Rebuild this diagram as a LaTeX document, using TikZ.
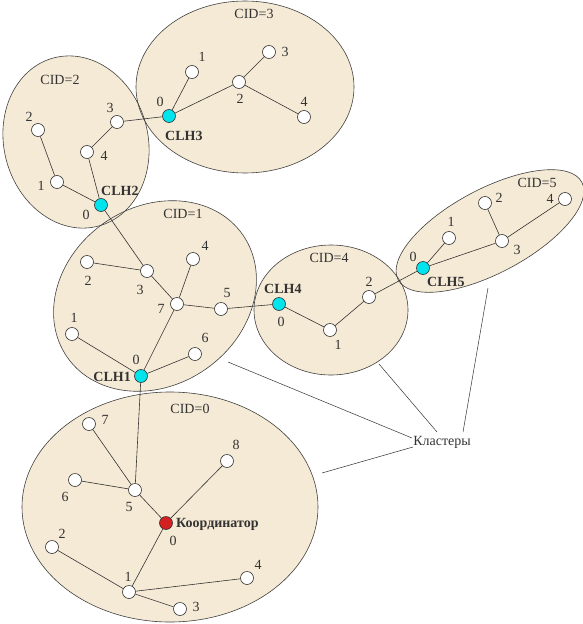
\documentclass[tikz,border=0pt]{standalone}
\usepackage{fontspec}
\setmainfont{Liberation Serif}
\begin{document}
\begin{tikzpicture}[x=1pt,y=-1pt,
  every node/.style={font=\fontsize{14}{16}\selectfont, text=black!80},
  cl/.style={fill=beige},
  clo/.style={draw=black!75, line width=0.6pt},
  nd/.style={circle, draw=black!80, fill=white, minimum size=13pt, inner sep=0pt, line width=0.6pt},
  ch/.style={nd, fill=cyanh},
  co/.style={nd, fill=redc},
  lb/.style={inner sep=0pt, anchor=center},
  bl/.style={inner sep=0pt, font=\fontsize{14}{16}\selectfont\bfseries},
  ed/.style={draw=black!80, line width=0.6pt}]
\definecolor{beige}{RGB}{245,234,213}
\definecolor{cyanh}{RGB}{0,228,238}
\definecolor{redc}{RGB}{212,32,32}
\useasboundingbox (0,0) rectangle (583,624);
% cluster fills
\fill[cl] (245,87) ellipse [x radius=109, y radius=86];
\fill[cl, rotate around={15:(76,142)}] (76,142) ellipse [x radius=72, y radius=87];
\fill[cl, rotate around={35:(155,296)}] (155,296) ellipse [x radius=107, y radius=89];
\fill[cl] (331,310) ellipse [x radius=77, y radius=65];
\fill[cl, rotate around={28:(490,231)}] (490,231) ellipse [x radius=104, y radius=42];
\fill[cl] (170,507) ellipse [x radius=148, y radius=115];
% cluster outlines
\draw[clo] (245,87) ellipse [x radius=109, y radius=86];
\draw[clo, rotate around={15:(76,142)}] (76,142) ellipse [x radius=72, y radius=87];
\draw[clo, rotate around={35:(155,296)}] (155,296) ellipse [x radius=107, y radius=89];
\draw[clo] (331,310) ellipse [x radius=77, y radius=65];
\draw[clo, rotate around={28:(490,231)}] (490,231) ellipse [x radius=104, y radius=42];
\draw[clo] (170,507) ellipse [x radius=148, y radius=115];
% cluster titles
\node[lb] (t3) at (254,14) {CID=3};
\node[lb] (t2) at (60,80) {CID=2};
\node[lb] (t1) at (183,214) {CID=1};
\node[lb] (t4) at (329,258) {CID=4};
\node[lb] (t5) at (537,183) {CID=5};
\node[lb] (t0) at (190,409) {CID=0};
% nodes cluster 3
\node[ch] (h3) at (169,116) {};
\node[nd] (a31) at (192,72) {};
\node[nd] (a32) at (239,82) {};
\node[nd] (a33) at (269,52) {};
\node[nd] (a34) at (304,117) {};
% cluster 2
\node[ch] (h2) at (101,205) {};
\node[nd] (a21) at (57,182) {};
\node[nd] (a22) at (38,130) {};
\node[nd] (a23) at (117,122) {};
\node[nd] (a24) at (87,152) {};
% cluster 1
\node[ch] (h1) at (141,376) {};
\node[nd] (a11) at (72,334) {};
\node[nd] (a12) at (87,262) {};
\node[nd] (a13) at (147,271) {};
\node[nd] (a14) at (193,259) {};
\node[nd] (a15) at (221,309) {};
\node[nd] (a16) at (195,354) {};
\node[nd] (a17) at (177,304) {};
% cluster 4
\node[ch] (h4) at (279,304) {};
\node[nd] (a41) at (330,330) {};
\node[nd] (a42) at (369,297) {};
% cluster 5
\node[ch] (h5) at (423,268) {};
\node[nd] (a51) at (449,238) {};
\node[nd] (a52) at (485,203) {};
\node[nd] (a53) at (502,241) {};
\node[nd] (a54) at (565,199) {};
% cluster 0
\node[co] (c0) at (166,523) {};
\node[nd] (a01) at (129,592) {};
\node[nd] (a02) at (52,547) {};
\node[nd] (a03) at (180,609) {};
\node[nd] (a04) at (247,578) {};
\node[nd] (a05) at (135,490) {};
\node[nd] (a06) at (75,480) {};
\node[nd] (a07) at (89,424) {};
\node[nd] (a08) at (227,461) {};
% edges
\draw[ed] (h3) -- (a31) (h3) -- (a32) (a32) -- (a33) (a32) -- (a34);
\draw[ed] (h2) -- (a21) (a21) -- (a22) (h2) -- (a24) (a24) -- (a23) (a23) -- (h3);
\draw[ed] (h2) -- (a13);
\draw[ed] (h1) -- (a11) (h1) -- (a17) (h1) -- (a16) (a17) -- (a14) (a17) -- (a15) (a17) -- (a13) (a13) -- (a12);
\draw[ed] (a15) -- (h4);
\draw[ed] (h4) -- (a41) (a41) -- (a42) (a42) -- (h5);
\draw[ed] (h5) -- (a51) (h5) -- (a53) (a53) -- (a52) (a53) -- (a54);
\draw[ed] (c0) -- (a05) (c0) -- (a08) (c0) -- (a01) (a01) -- (a02) (a01) -- (a04) (a01) -- (a03) (a05) -- (a06) (a05) -- (a07) (a05) -- (h1);
% labels cluster 3
\node[lb] (l30) at (160,102) {0};
\node[bl, anchor=west] (n3) at (165,136) {CLH3};
\node[lb] (l31) at (202,57) {1};
\node[lb] (l32) at (240,99) {2};
\node[lb] (l33) at (285,52) {3};
\node[lb] (l34) at (304,102) {4};
% labels cluster 2
\node[lb] (l20) at (86,215) {0};
\node[bl, anchor=west] (n2) at (101,191) {CLH2};
\node[lb] (l21) at (41,186) {1};
\node[lb] (l22) at (29,117) {2};
\node[lb] (l23) at (110,108) {3};
\node[lb] (l24) at (104,156) {4};
% labels cluster 1
\node[lb] (l10) at (136,360) {0};
\node[bl, anchor=east] (n1) at (131,377) {CLH1};
\node[lb] (l11) at (74,318) {1};
\node[lb] (l12) at (88,281) {2};
\node[lb] (l13) at (140,290) {3};
\node[lb] (l14) at (205,246) {4};
\node[lb] (l15) at (227,293) {5};
\node[lb] (l16) at (205,338) {6};
\node[lb] (l17) at (161,309) {7};
% labels cluster 4
\node[lb] (l40) at (281,322) {0};
\node[bl, anchor=west] (n4) at (264,289) {CLH4};
\node[lb] (l41) at (338,345) {1};
\node[lb] (l42) at (369,282) {2};
% labels cluster 5
\node[lb] (l50) at (413,257) {0};
\node[bl, anchor=west] (n5) at (427,282) {CLH5};
\node[lb] (l51) at (451,222) {1};
\node[lb] (l52) at (499,198) {2};
\node[lb] (l53) at (517,250) {3};
\node[lb] (l54) at (550,199) {4};
% labels cluster 0
\node[lb] (l00) at (173,541) {0};
\node[bl, anchor=west] (nc) at (176,524) {Координатор};
\node[lb] (l01) at (128,577) {1};
\node[lb] (l02) at (62,534) {2};
\node[lb] (l03) at (196,607) {3};
\node[lb] (l04) at (258,565) {4};
\node[lb] (l05) at (129,507) {5};
\node[lb] (l06) at (65,497) {6};
\node[lb] (l07) at (105,420) {7};
\node[lb] (l08) at (236,445) {8};
% legend
\node[lb] (kl) at (442,442) {Кластеры};
\coordinate (p1) at (228,362);
\coordinate (p2) at (379,364);
\coordinate (p3) at (488,288);
\coordinate (p4) at (322,473);
\draw[ed, line width=0.5pt] (p1) -- (412,438);
\draw[ed, line width=0.5pt] (p2) -- (437,432);
\draw[ed, line width=0.5pt] (p3) -- (463,432);
\draw[ed, line width=0.5pt] (p4) -- (413,447);
\end{tikzpicture}
\end{document}
